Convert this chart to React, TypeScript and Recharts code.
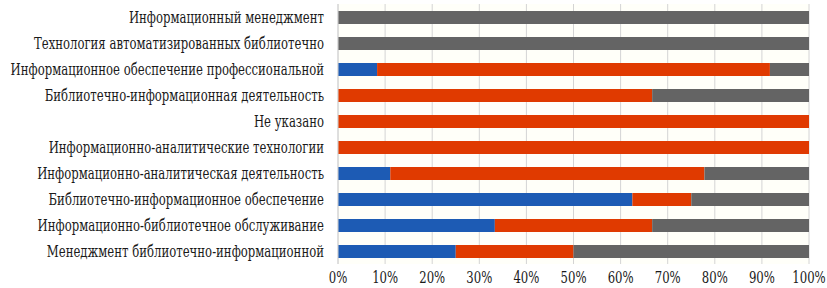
import React from 'react';
import { BarChart, Bar, XAxis, YAxis, CartesianGrid } from 'recharts';

// categories, top to bottom
const categories = [
  'Информационный менеджмент',
  'Технология автоматизированных библиотечно',
  'Информационное обеспечение профессиональной',
  'Библиотечно-информационная деятельность',
  'Не указано',
  'Информационно-аналитические технологии',
  'Информационно-аналитическая деятельность',
  'Библиотечно-информационное обеспечение',
  'Информационно-библиотечное обслуживание',
  'Менеджмент библиотечно-информационной',
];

// shares in percent (blue / red / gray)
const blueValues = [0, 0, 8.3, 0, 0, 0, 11.1, 62.5, 33.3, 25];
const redValues = [0, 0, 83.4, 66.7, 100, 100, 66.7, 12.5, 33.4, 25];
const grayValues = [100, 100, 8.3, 33.3, 0, 0, 22.2, 25, 33.3, 50];

const xTicks = [0, 10, 20, 30, 40, 50, 60, 70, 80, 90, 100];

const COLORS = {
  blue: '#1d5bb4',
  red: '#e03a00',
  gray: '#646464',
};

const chartData = categories.map((name, i) => ({
  name,
  blue: blueValues[i],
  red: redValues[i],
  gray: grayValues[i],
}));

// serif face, narrowed a bit so it sits like Times
const FONT = '"DejaVu Serif", serif';
const NARROW = 0.74;
const FONT_SIZE = 15.8;

const CategoryTick = ({ x, y, payload }: any) => (
  <text
    transform={`translate(${x - 6},${y}) scale(${NARROW},1)`}
    dy="0.35em"
    textAnchor="end"
    fill="#1a1a1a"
    fontFamily={FONT}
    fontSize={FONT_SIZE}
  >
    {payload.value}
  </text>
);

const PercentTick = ({ x, y, payload }: any) => (
  <text
    transform={`translate(${x},${y + 5}) scale(${NARROW},1)`}
    dy="0.35em"
    textAnchor="middle"
    fill="#1a1a1a"
    fontFamily={FONT}
    fontSize={FONT_SIZE}
  >
    {`${payload.value}%`}
  </text>
);

export default function App() {
  return (
    <div style={{ position: 'absolute', left: 0, top: 0, width: 827, height: 288, background: '#ffffff' }}>
      <BarChart
        width={827}
        height={288}
        data={chartData}
        layout="vertical"
        margin={{ top: 4, right: 18, bottom: 0, left: 0 }}
        barSize={13}
      >
        <CartesianGrid horizontal={false} stroke="#d4d4d4" fill="#fffff9" />
        <XAxis
          type="number"
          domain={[0, 100]}
          ticks={xTicks}
          axisLine={false}
          tickLine={false}
          height={24}
          tick={<PercentTick />}
          interval={0}
        />
        <YAxis
          type="category"
          dataKey="name"
          width={338}
          axisLine={{ stroke: '#d4d4d4' }}
          tickLine={false}
          tick={<CategoryTick />}
          interval={0}
        />
        <Bar dataKey="blue" stackId="a" fill={COLORS.blue} isAnimationActive={false} />
        <Bar dataKey="red" stackId="a" fill={COLORS.red} isAnimationActive={false} />
        <Bar dataKey="gray" stackId="a" fill={COLORS.gray} isAnimationActive={false} />
      </BarChart>
    </div>
  );
}
